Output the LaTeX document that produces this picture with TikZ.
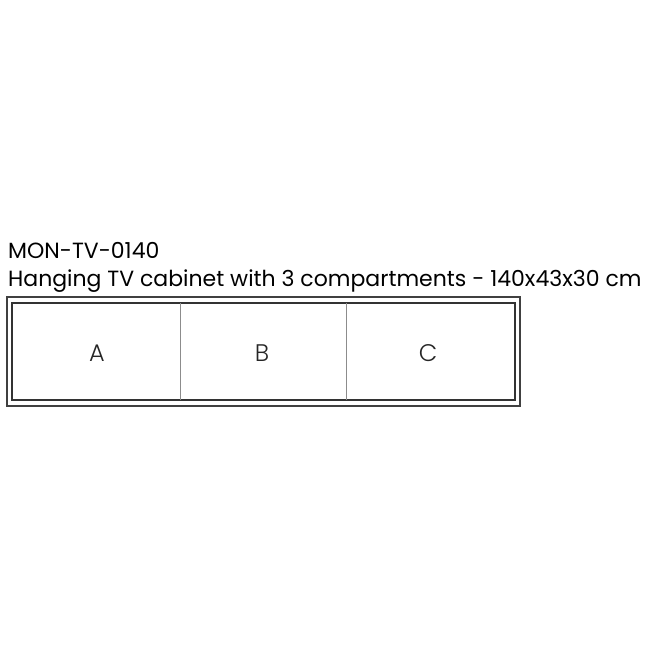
\documentclass[tikz,border=0pt]{standalone}
\usepackage{fontspec}
\setmainfont{Poppins}
\newfontfamily\lightfont{Poppins Light}
\begin{document}
\begin{tikzpicture}[x=1pt,y=-1pt,
  outerbox/.style={draw=black!75,line width=1.8pt},
  innerbox/.style={draw=black!80,line width=1.3pt},
  divider/.style={draw=black!45,line width=1pt},
  title/.style={anchor=base west,inner sep=0pt,font=\fontsize{22}{22}\selectfont,text=black},
  letter/.style={inner sep=0pt,font=\lightfont\fontsize{24}{24}\selectfont,text=black!85}]
\useasboundingbox (0,0) rectangle (650,650);
\node[title] (code) at (8,258) {MON-TV-0140};
\node[title] (desc) at (8,286) {Hanging TV cabinet with 3 compartments - 140x43x30 cm};
\draw[outerbox] (7,297) rectangle (520,406);
\draw[innerbox] (12,303) rectangle (515,400);
\coordinate (d1t) at (180,303);
\coordinate (d1b) at (180,400);
\coordinate (d2t) at (346,303);
\coordinate (d2b) at (346,400);
\draw[divider] (d1t) -- (d1b);
\draw[divider] (d2t) -- (d2b);
\node[letter] (A) at (97,353) {A};
\node[letter] (B) at (262,353) {B};
\node[letter] (C) at (428,353) {C};
\end{tikzpicture}
\end{document}
